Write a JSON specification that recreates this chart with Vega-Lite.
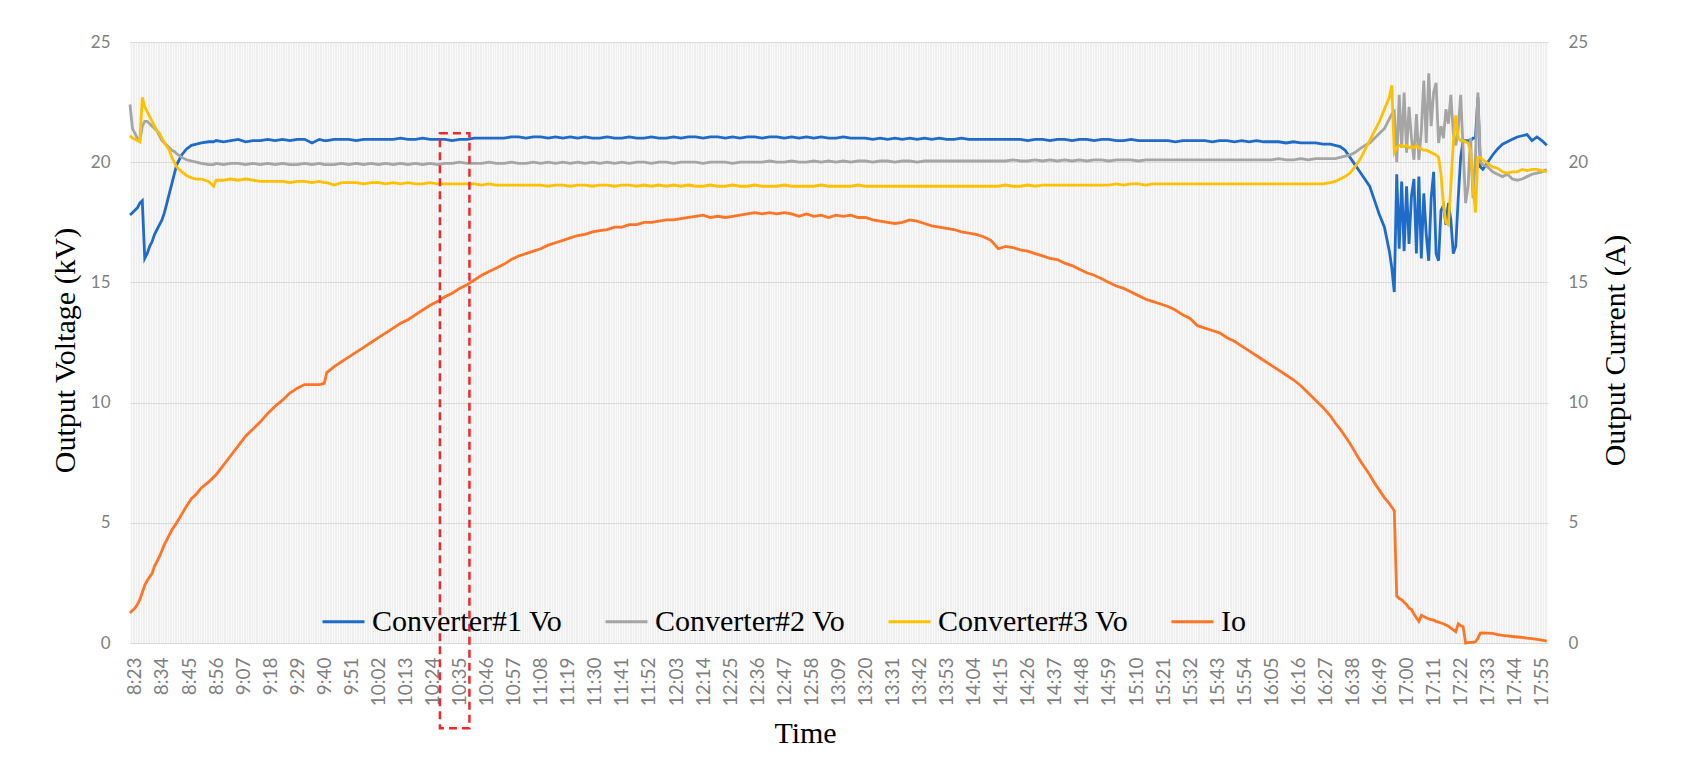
{
  "$schema": "https://vega.github.io/schema/vega-lite/v6.json",
  "width": 1418,
  "height": 601,
  "autosize": {"type": "none"},
  "padding": {"left": 130, "top": 42, "right": 152, "bottom": 117},
  "background": "#ffffff",
  "config": {
    "view": {"fill": "#efefef", "stroke": null},
    "axis": {"labelFont": "Lato", "labelColor": "#7f7f7f", "titleFont": "Liberation Serif", "titleFontWeight": "normal", "titleColor": "#000000", "titleFontSize": 30, "ticks": false, "domain": false}
  },
  "data": {
    "format": {"parse": {"t": "date:'%H:%M'"}},
    "values": [
      {"t":"8:21","c1":17.8,"c2":22.4,"c3":21.1,"io":1.25},
      {"t":"8:22","c1":17.9,"c2":21.4,"c3":21.0,"io":1.35},
      {"t":"8:23","c1":18.0,"c2":21.2,"c3":20.95,"io":1.45},
      {"t":"8:24","c1":18.1,"c2":21.0,"c3":20.9,"io":1.6},
      {"t":"8:25","c1":18.3,"c2":20.9,"c3":20.85,"io":1.8},
      {"t":"8:26","c1":18.4,"c2":21.5,"c3":22.7,"io":2.1},
      {"t":"8:27","c1":16.0,"c2":21.7,"c3":22.3,"io":2.4},
      {"t":"8:28","c1":16.2,"c2":21.7,"c3":22.1,"io":2.6},
      {"t":"8:29","c1":16.5,"c2":21.6,"c3":21.9,"io":2.75},
      {"t":"8:30","c1":16.7,"c2":21.5,"c3":21.7,"io":2.9},
      {"t":"8:31","c1":17.0,"c2":21.4,"c3":21.5,"io":3.2},
      {"t":"8:32","c1":17.2,"c2":21.3,"c3":21.3,"io":3.4},
      {"t":"8:33","c1":17.4,"c2":21.1,"c3":21.2,"io":3.6},
      {"t":"8:34","c1":17.6,"c2":20.9,"c3":21.0,"io":3.85},
      {"t":"8:35","c1":17.9,"c2":20.8,"c3":20.8,"io":4.1},
      {"t":"8:36","c1":18.3,"c2":20.7,"c3":20.65,"io":4.3},
      {"t":"8:37","c1":18.7,"c2":20.6,"c3":20.5,"io":4.5},
      {"t":"8:38","c1":19.1,"c2":20.5,"c3":20.2,"io":4.7},
      {"t":"8:39","c1":19.5,"c2":20.45,"c3":20.0,"io":4.85},
      {"t":"8:40","c1":19.9,"c2":20.35,"c3":19.8,"io":5.0},
      {"t":"8:42","c1":20.3,"c2":20.2,"c3":19.6,"io":5.35},
      {"t":"8:44","c1":20.55,"c2":20.1,"c3":19.45,"io":5.7},
      {"t":"8:46","c1":20.7,"c2":20.05,"c3":19.35,"io":6.0},
      {"t":"8:48","c1":20.75,"c2":20.0,"c3":19.3,"io":6.2},
      {"t":"8:50","c1":20.8,"c2":19.95,"c3":19.3,"io":6.45},
      {"t":"8:53","c1":20.85,"c2":19.9,"c3":19.2,"io":6.7},
      {"t":"8:55","c1":20.85,"c2":19.9,"c3":19.0,"io":6.9},
      {"t":"8:56","c1":20.9,"c2":19.95,"c3":19.25,"io":7.0},
      {"t":"8:59","c1":20.85,"c2":19.9,"c3":19.25,"io":7.4},
      {"t":"9:02","c1":20.9,"c2":19.95,"c3":19.3,"io":7.8},
      {"t":"9:05","c1":20.95,"c2":19.95,"c3":19.25,"io":8.2},
      {"t":"9:08","c1":20.85,"c2":19.9,"c3":19.3,"io":8.6},
      {"t":"9:11","c1":20.9,"c2":19.95,"c3":19.25,"io":8.9},
      {"t":"9:14","c1":20.9,"c2":19.9,"c3":19.2,"io":9.2},
      {"t":"9:17","c1":20.95,"c2":19.95,"c3":19.2,"io":9.55},
      {"t":"9:20","c1":20.9,"c2":19.9,"c3":19.2,"io":9.85},
      {"t":"9:23","c1":20.95,"c2":19.95,"c3":19.2,"io":10.1},
      {"t":"9:26","c1":20.9,"c2":19.9,"c3":19.15,"io":10.4},
      {"t":"9:29","c1":20.95,"c2":19.9,"c3":19.2,"io":10.6},
      {"t":"9:32","c1":20.95,"c2":19.95,"c3":19.2,"io":10.75},
      {"t":"9:35","c1":20.8,"c2":19.9,"c3":19.15,"io":10.75},
      {"t":"9:38","c1":20.95,"c2":19.95,"c3":19.2,"io":10.75},
      {"t":"9:40","c1":20.9,"c2":19.9,"c3":19.15,"io":10.8},
      {"t":"9:41","c1":20.9,"c2":19.9,"c3":19.15,"io":11.25},
      {"t":"9:44","c1":20.95,"c2":19.9,"c3":19.05,"io":11.5},
      {"t":"9:47","c1":20.95,"c2":19.95,"c3":19.15,"io":11.7},
      {"t":"9:50","c1":20.95,"c2":19.9,"c3":19.15,"io":11.9},
      {"t":"9:53","c1":20.9,"c2":19.95,"c3":19.15,"io":12.1},
      {"t":"9:56","c1":20.95,"c2":19.9,"c3":19.1,"io":12.3},
      {"t":"9:59","c1":20.95,"c2":19.95,"c3":19.15,"io":12.5},
      {"t":"10:02","c1":20.95,"c2":19.9,"c3":19.15,"io":12.7},
      {"t":"10:05","c1":20.95,"c2":19.95,"c3":19.1,"io":12.9},
      {"t":"10:08","c1":20.95,"c2":19.9,"c3":19.15,"io":13.1},
      {"t":"10:11","c1":21.0,"c2":19.95,"c3":19.1,"io":13.3},
      {"t":"10:14","c1":20.95,"c2":19.9,"c3":19.15,"io":13.45},
      {"t":"10:17","c1":20.95,"c2":19.95,"c3":19.1,"io":13.65},
      {"t":"10:20","c1":21.0,"c2":19.9,"c3":19.1,"io":13.85},
      {"t":"10:23","c1":20.95,"c2":19.95,"c3":19.15,"io":14.05},
      {"t":"10:26","c1":20.95,"c2":19.9,"c3":19.1,"io":14.2},
      {"t":"10:29","c1":20.95,"c2":19.95,"c3":19.1,"io":14.4},
      {"t":"10:32","c1":20.9,"c2":19.95,"c3":19.1,"io":14.55},
      {"t":"10:35","c1":20.95,"c2":20.0,"c3":19.1,"io":14.75},
      {"t":"10:38","c1":20.95,"c2":19.95,"c3":19.1,"io":14.9},
      {"t":"10:41","c1":21.0,"c2":19.95,"c3":19.1,"io":15.1},
      {"t":"10:44","c1":21.0,"c2":19.95,"c3":19.05,"io":15.3},
      {"t":"10:47","c1":21.0,"c2":20.0,"c3":19.1,"io":15.45},
      {"t":"10:50","c1":21.0,"c2":19.95,"c3":19.05,"io":15.6},
      {"t":"10:53","c1":21.0,"c2":19.95,"c3":19.05,"io":15.75},
      {"t":"10:56","c1":21.05,"c2":20.0,"c3":19.05,"io":15.95},
      {"t":"10:59","c1":21.05,"c2":19.95,"c3":19.05,"io":16.1},
      {"t":"11:02","c1":21.0,"c2":19.95,"c3":19.05,"io":16.2},
      {"t":"11:05","c1":21.05,"c2":20.0,"c3":19.05,"io":16.3},
      {"t":"11:08","c1":21.05,"c2":19.95,"c3":19.05,"io":16.4},
      {"t":"11:11","c1":21.0,"c2":20.0,"c3":19.0,"io":16.55},
      {"t":"11:14","c1":21.05,"c2":19.95,"c3":19.05,"io":16.65},
      {"t":"11:17","c1":21.0,"c2":20.0,"c3":19.05,"io":16.75},
      {"t":"11:20","c1":21.05,"c2":19.95,"c3":19.0,"io":16.85},
      {"t":"11:23","c1":21.0,"c2":20.0,"c3":19.05,"io":16.95},
      {"t":"11:26","c1":21.05,"c2":19.95,"c3":19.05,"io":17.0},
      {"t":"11:29","c1":21.0,"c2":20.0,"c3":19.0,"io":17.1},
      {"t":"11:32","c1":21.0,"c2":19.95,"c3":19.05,"io":17.15},
      {"t":"11:35","c1":21.05,"c2":20.0,"c3":19.05,"io":17.2},
      {"t":"11:38","c1":21.0,"c2":19.95,"c3":19.0,"io":17.3},
      {"t":"11:41","c1":21.0,"c2":20.0,"c3":19.05,"io":17.3},
      {"t":"11:44","c1":21.05,"c2":19.95,"c3":19.05,"io":17.4},
      {"t":"11:47","c1":21.0,"c2":20.0,"c3":19.0,"io":17.4},
      {"t":"11:50","c1":21.0,"c2":20.0,"c3":19.05,"io":17.5},
      {"t":"11:53","c1":21.05,"c2":19.95,"c3":19.0,"io":17.5},
      {"t":"11:56","c1":21.0,"c2":20.0,"c3":19.05,"io":17.55},
      {"t":"11:59","c1":21.0,"c2":20.0,"c3":19.0,"io":17.6},
      {"t":"12:02","c1":21.05,"c2":19.95,"c3":19.05,"io":17.6},
      {"t":"12:05","c1":21.0,"c2":20.0,"c3":19.0,"io":17.65},
      {"t":"12:08","c1":21.05,"c2":20.0,"c3":19.05,"io":17.7},
      {"t":"12:11","c1":21.05,"c2":20.0,"c3":19.0,"io":17.75},
      {"t":"12:14","c1":21.0,"c2":19.95,"c3":19.0,"io":17.8},
      {"t":"12:17","c1":21.05,"c2":20.0,"c3":19.05,"io":17.7},
      {"t":"12:20","c1":21.05,"c2":20.0,"c3":19.0,"io":17.75},
      {"t":"12:23","c1":21.0,"c2":20.0,"c3":19.0,"io":17.7},
      {"t":"12:26","c1":21.05,"c2":19.95,"c3":19.05,"io":17.75},
      {"t":"12:29","c1":21.0,"c2":20.0,"c3":19.0,"io":17.8},
      {"t":"12:32","c1":21.05,"c2":20.0,"c3":19.0,"io":17.85},
      {"t":"12:35","c1":21.05,"c2":20.0,"c3":19.05,"io":17.9},
      {"t":"12:38","c1":21.0,"c2":20.0,"c3":19.0,"io":17.85},
      {"t":"12:41","c1":21.05,"c2":20.05,"c3":19.0,"io":17.9},
      {"t":"12:44","c1":21.05,"c2":20.0,"c3":19.0,"io":17.85},
      {"t":"12:47","c1":21.0,"c2":20.0,"c3":19.05,"io":17.9},
      {"t":"12:50","c1":21.05,"c2":20.05,"c3":19.0,"io":17.85},
      {"t":"12:53","c1":21.0,"c2":20.0,"c3":19.0,"io":17.75},
      {"t":"12:56","c1":21.05,"c2":20.0,"c3":19.0,"io":17.85},
      {"t":"12:59","c1":21.0,"c2":20.05,"c3":19.0,"io":17.75},
      {"t":"13:02","c1":21.05,"c2":20.0,"c3":19.05,"io":17.8},
      {"t":"13:05","c1":21.0,"c2":20.05,"c3":19.0,"io":17.7},
      {"t":"13:08","c1":21.0,"c2":20.0,"c3":19.0,"io":17.8},
      {"t":"13:11","c1":21.05,"c2":20.05,"c3":19.0,"io":17.75},
      {"t":"13:14","c1":21.0,"c2":20.0,"c3":19.0,"io":17.8},
      {"t":"13:17","c1":21.0,"c2":20.05,"c3":19.05,"io":17.7},
      {"t":"13:20","c1":21.0,"c2":20.05,"c3":19.0,"io":17.7},
      {"t":"13:23","c1":20.95,"c2":20.0,"c3":19.0,"io":17.6},
      {"t":"13:26","c1":21.0,"c2":20.05,"c3":19.0,"io":17.55},
      {"t":"13:29","c1":20.95,"c2":20.05,"c3":19.0,"io":17.5},
      {"t":"13:32","c1":21.0,"c2":20.0,"c3":19.0,"io":17.45},
      {"t":"13:35","c1":20.95,"c2":20.05,"c3":19.0,"io":17.5},
      {"t":"13:38","c1":21.0,"c2":20.05,"c3":19.0,"io":17.6},
      {"t":"13:41","c1":20.95,"c2":20.0,"c3":19.0,"io":17.55},
      {"t":"13:44","c1":21.0,"c2":20.05,"c3":19.0,"io":17.45},
      {"t":"13:47","c1":20.95,"c2":20.05,"c3":19.0,"io":17.35},
      {"t":"13:50","c1":21.0,"c2":20.05,"c3":19.0,"io":17.3},
      {"t":"13:53","c1":20.95,"c2":20.05,"c3":19.0,"io":17.25},
      {"t":"13:56","c1":20.95,"c2":20.05,"c3":19.0,"io":17.2},
      {"t":"13:59","c1":21.0,"c2":20.05,"c3":19.0,"io":17.1},
      {"t":"14:02","c1":20.95,"c2":20.05,"c3":19.0,"io":17.05},
      {"t":"14:05","c1":20.95,"c2":20.05,"c3":19.0,"io":17.0},
      {"t":"14:08","c1":20.95,"c2":20.05,"c3":19.0,"io":16.9},
      {"t":"14:11","c1":20.95,"c2":20.05,"c3":19.0,"io":16.75},
      {"t":"14:14","c1":20.95,"c2":20.05,"c3":19.0,"io":16.4},
      {"t":"14:17","c1":20.95,"c2":20.05,"c3":19.05,"io":16.5},
      {"t":"14:20","c1":20.95,"c2":20.1,"c3":19.0,"io":16.45},
      {"t":"14:23","c1":20.95,"c2":20.05,"c3":19.0,"io":16.35},
      {"t":"14:26","c1":20.9,"c2":20.05,"c3":19.05,"io":16.3},
      {"t":"14:29","c1":20.95,"c2":20.1,"c3":19.0,"io":16.2},
      {"t":"14:32","c1":20.95,"c2":20.05,"c3":19.05,"io":16.1},
      {"t":"14:35","c1":20.9,"c2":20.1,"c3":19.05,"io":16.0},
      {"t":"14:38","c1":20.95,"c2":20.05,"c3":19.05,"io":15.95},
      {"t":"14:41","c1":20.95,"c2":20.1,"c3":19.05,"io":15.8},
      {"t":"14:44","c1":20.9,"c2":20.05,"c3":19.05,"io":15.7},
      {"t":"14:47","c1":20.95,"c2":20.1,"c3":19.05,"io":15.55},
      {"t":"14:50","c1":20.95,"c2":20.05,"c3":19.05,"io":15.4},
      {"t":"14:53","c1":20.9,"c2":20.1,"c3":19.05,"io":15.3},
      {"t":"14:56","c1":20.95,"c2":20.1,"c3":19.05,"io":15.15},
      {"t":"14:59","c1":20.95,"c2":20.05,"c3":19.05,"io":15.0},
      {"t":"15:02","c1":20.9,"c2":20.1,"c3":19.1,"io":14.85},
      {"t":"15:05","c1":20.9,"c2":20.1,"c3":19.05,"io":14.75},
      {"t":"15:08","c1":20.95,"c2":20.1,"c3":19.1,"io":14.6},
      {"t":"15:11","c1":20.9,"c2":20.05,"c3":19.1,"io":14.45},
      {"t":"15:14","c1":20.9,"c2":20.1,"c3":19.05,"io":14.3},
      {"t":"15:17","c1":20.9,"c2":20.1,"c3":19.1,"io":14.2},
      {"t":"15:20","c1":20.9,"c2":20.1,"c3":19.1,"io":14.1},
      {"t":"15:23","c1":20.9,"c2":20.1,"c3":19.1,"io":14.0},
      {"t":"15:26","c1":20.85,"c2":20.1,"c3":19.1,"io":13.85},
      {"t":"15:29","c1":20.9,"c2":20.1,"c3":19.1,"io":13.65},
      {"t":"15:32","c1":20.9,"c2":20.1,"c3":19.1,"io":13.5},
      {"t":"15:35","c1":20.9,"c2":20.1,"c3":19.1,"io":13.2},
      {"t":"15:38","c1":20.9,"c2":20.1,"c3":19.1,"io":13.1},
      {"t":"15:41","c1":20.85,"c2":20.1,"c3":19.1,"io":13.0},
      {"t":"15:44","c1":20.9,"c2":20.1,"c3":19.1,"io":12.9},
      {"t":"15:47","c1":20.9,"c2":20.1,"c3":19.1,"io":12.7},
      {"t":"15:50","c1":20.85,"c2":20.1,"c3":19.1,"io":12.55},
      {"t":"15:53","c1":20.9,"c2":20.1,"c3":19.1,"io":12.35},
      {"t":"15:56","c1":20.85,"c2":20.1,"c3":19.1,"io":12.15},
      {"t":"15:59","c1":20.9,"c2":20.1,"c3":19.1,"io":11.95},
      {"t":"16:02","c1":20.85,"c2":20.1,"c3":19.1,"io":11.75},
      {"t":"16:05","c1":20.85,"c2":20.1,"c3":19.1,"io":11.55},
      {"t":"16:08","c1":20.85,"c2":20.15,"c3":19.1,"io":11.35},
      {"t":"16:11","c1":20.8,"c2":20.1,"c3":19.1,"io":11.15},
      {"t":"16:14","c1":20.85,"c2":20.1,"c3":19.1,"io":10.95},
      {"t":"16:17","c1":20.8,"c2":20.15,"c3":19.1,"io":10.7},
      {"t":"16:20","c1":20.8,"c2":20.1,"c3":19.1,"io":10.4},
      {"t":"16:23","c1":20.8,"c2":20.15,"c3":19.1,"io":10.1},
      {"t":"16:26","c1":20.75,"c2":20.15,"c3":19.1,"io":9.8},
      {"t":"16:29","c1":20.75,"c2":20.15,"c3":19.15,"io":9.45},
      {"t":"16:31","c1":20.7,"c2":20.15,"c3":19.2,"io":9.15},
      {"t":"16:33","c1":20.65,"c2":20.2,"c3":19.3,"io":8.9},
      {"t":"16:35","c1":20.5,"c2":20.25,"c3":19.4,"io":8.6},
      {"t":"16:37","c1":20.2,"c2":20.3,"c3":19.55,"io":8.3},
      {"t":"16:39","c1":19.9,"c2":20.4,"c3":19.8,"io":7.95},
      {"t":"16:41","c1":19.6,"c2":20.55,"c3":20.1,"io":7.6},
      {"t":"16:43","c1":19.3,"c2":20.7,"c3":20.5,"io":7.3},
      {"t":"16:45","c1":19.0,"c2":20.8,"c3":20.9,"io":7.0},
      {"t":"16:47","c1":18.4,"c2":21.0,"c3":21.3,"io":6.65},
      {"t":"16:49","c1":17.8,"c2":21.2,"c3":21.7,"io":6.35},
      {"t":"16:51","c1":17.3,"c2":21.4,"c3":22.2,"io":6.05},
      {"t":"16:53","c1":16.3,"c2":21.8,"c3":22.7,"io":5.8},
      {"t":"16:54","c1":15.6,"c2":22.0,"c3":23.2,"io":5.65},
      {"t":"16:55","c1":14.6,"c2":22.1,"c3":20.4,"io":5.5},
      {"t":"16:56","c1":19.5,"c2":20.0,"c3":20.6,"io":1.95},
      {"t":"16:57","c1":16.4,"c2":22.8,"c3":20.7,"io":1.85},
      {"t":"16:58","c1":19.2,"c2":20.6,"c3":20.7,"io":1.8},
      {"t":"16:59","c1":16.3,"c2":22.9,"c3":20.65,"io":1.7},
      {"t":"17:00","c1":19.0,"c2":20.4,"c3":20.7,"io":1.6},
      {"t":"17:01","c1":16.6,"c2":22.3,"c3":20.6,"io":1.45},
      {"t":"17:02","c1":18.6,"c2":21.0,"c3":20.65,"io":1.4},
      {"t":"17:03","c1":19.3,"c2":20.1,"c3":20.6,"io":1.2},
      {"t":"17:04","c1":16.2,"c2":22.0,"c3":20.7,"io":1.05},
      {"t":"17:05","c1":19.4,"c2":20.1,"c3":20.6,"io":0.9},
      {"t":"17:06","c1":16.0,"c2":21.3,"c3":20.55,"io":1.15},
      {"t":"17:07","c1":18.7,"c2":23.4,"c3":20.5,"io":1.1},
      {"t":"17:08","c1":17.0,"c2":20.8,"c3":20.5,"io":1.05},
      {"t":"17:09","c1":15.9,"c2":23.7,"c3":20.45,"io":1.0},
      {"t":"17:10","c1":18.5,"c2":21.5,"c3":20.4,"io":0.97},
      {"t":"17:11","c1":19.6,"c2":22.9,"c3":20.35,"io":0.95},
      {"t":"17:12","c1":16.2,"c2":23.3,"c3":20.3,"io":0.9},
      {"t":"17:13","c1":15.9,"c2":20.8,"c3":20.2,"io":0.87},
      {"t":"17:14","c1":18.0,"c2":21.5,"c3":19.5,"io":0.83},
      {"t":"17:15","c1":18.2,"c2":21.0,"c3":18.2,"io":0.8},
      {"t":"17:16","c1":17.4,"c2":22.2,"c3":17.5,"io":0.75},
      {"t":"17:17","c1":18.3,"c2":21.6,"c3":17.4,"io":0.7},
      {"t":"17:18","c1":17.6,"c2":22.8,"c3":19.0,"io":0.62},
      {"t":"17:19","c1":16.2,"c2":21.2,"c3":20.8,"io":0.55},
      {"t":"17:20","c1":16.5,"c2":20.7,"c3":21.95,"io":0.47},
      {"t":"17:21","c1":18.5,"c2":21.4,"c3":21.0,"io":0.8},
      {"t":"17:22","c1":20.2,"c2":22.8,"c3":20.9,"io":0.72},
      {"t":"17:23","c1":20.9,"c2":20.5,"c3":20.9,"io":0.68},
      {"t":"17:24","c1":20.9,"c2":18.3,"c3":20.85,"io":0.0},
      {"t":"17:25","c1":20.9,"c2":19.0,"c3":20.8,"io":0.02},
      {"t":"17:26","c1":20.9,"c2":21.0,"c3":20.5,"io":0.03},
      {"t":"17:27","c1":21.0,"c2":18.5,"c3":19.0,"io":0.03},
      {"t":"17:28","c1":21.0,"c2":20.2,"c3":17.9,"io":0.05},
      {"t":"17:29","c1":22.7,"c2":22.9,"c3":20.2,"io":0.2},
      {"t":"17:30","c1":19.8,"c2":20.0,"c3":20.2,"io":0.41},
      {"t":"17:31","c1":19.7,"c2":19.9,"c3":20.1,"io":0.42},
      {"t":"17:33","c1":20.0,"c2":19.8,"c3":19.95,"io":0.41},
      {"t":"17:35","c1":20.3,"c2":19.6,"c3":19.8,"io":0.4},
      {"t":"17:37","c1":20.55,"c2":19.5,"c3":19.75,"io":0.35},
      {"t":"17:39","c1":20.75,"c2":19.4,"c3":19.6,"io":0.32},
      {"t":"17:41","c1":20.85,"c2":19.5,"c3":19.55,"io":0.3},
      {"t":"17:43","c1":20.95,"c2":19.3,"c3":19.6,"io":0.27},
      {"t":"17:45","c1":21.05,"c2":19.25,"c3":19.6,"io":0.25},
      {"t":"17:47","c1":21.1,"c2":19.3,"c3":19.7,"io":0.23},
      {"t":"17:49","c1":21.15,"c2":19.4,"c3":19.65,"io":0.2},
      {"t":"17:51","c1":20.9,"c2":19.5,"c3":19.7,"io":0.18},
      {"t":"17:53","c1":21.05,"c2":19.55,"c3":19.7,"io":0.15},
      {"t":"17:55","c1":20.9,"c2":19.6,"c3":19.65,"io":0.12},
      {"t":"17:57","c1":20.7,"c2":19.7,"c3":19.6,"io":0.08}
    ]
  },
  "layer": [
    {
      "transform": [{"fold": ["c1", "c2", "c3"], "as": ["key", "value"]}],
      "mark": {"type": "line", "strokeWidth": 2.8},
      "encoding": {
        "x": {
          "field": "t", "type": "temporal",
          "scale": {"domain": [{"year": 1900, "month": 1, "date": 1, "hours": 8, "minutes": 21}, {"year": 1900, "month": 1, "date": 1, "hours": 17, "minutes": 57, "seconds": 30}]},
          "axis": {
            "title": "Time",
            "tickCount": 576,
            "labelExpr": "(hours(datum.value)*60 + minutes(datum.value) - 503) % 11 == 0 ? timeFormat(datum.value, '%-H:%M') : ''",
            "labelAngle": -90, "labelOverlap": false, "labelFlush": false, "labelBound": false,
            "labelPadding": 14, "labelFontSize": 19,
            "grid": true, "gridColor": "#ffffff", "gridWidth": 0.8, "gridOpacity": 0.85,
            "titleX": 675, "titleY": 90, "titleBaseline": "middle", "titleAlign": "center"
          }
        },
        "y": {
          "field": "value", "type": "quantitative",
          "scale": {"domain": [0, 25], "nice": false},
          "axis": {
            "title": "Output Voltage (kV)", "values": [0, 5, 10, 15, 20, 25],
            "labelFontSize": 17, "labelPadding": 20,
            "grid": true, "gridColor": "#dadada", "gridWidth": 1,
            "titleX": -65, "titleY": 308, "titleAngle": 270, "titleBaseline": "middle", "titleAlign": "center"
          }
        },
        "color": {
          "field": "key", "type": "nominal",
          "scale": {"domain": ["c1", "c2", "c3", "io"], "range": ["#1f6bc8", "#a5a5a5", "#ffc000", "#ff7425"]},
          "legend": {
            "title": null, "orient": "none", "direction": "horizontal",
            "legendX": 191, "legendY": 557,
            "symbolType": "stroke", "symbolSize": 1764, "symbolStrokeWidth": 3,
            "labelFont": "Liberation Serif", "labelFontSize": 30, "labelColor": "#000000",
            "labelOffset": 6, "columnPadding": 36, "labelLimit": 400,
            "labelExpr": "datum.label == 'c1' ? 'Converter#1 Vo' : datum.label == 'c2' ? 'Converter#2 Vo' : datum.label == 'c3' ? 'Converter#3 Vo' : 'Io'"
          }
        }
      }
    },
    {
      "mark": {"type": "line", "strokeWidth": 2.8},
      "encoding": {
        "x": {"field": "t", "type": "temporal"},
        "y": {
          "field": "io", "type": "quantitative",
          "scale": {"domain": [0, 25], "nice": false},
          "axis": {
            "orient": "right", "title": "Output Current (A)", "values": [0, 5, 10, 15, 20, 25],
            "labelFontSize": 17, "labelPadding": 20, "grid": false,
            "titleX": 67, "titleY": 308, "titleAngle": 270, "titleBaseline": "middle", "titleAlign": "center"
          }
        },
        "color": {"datum": "io"}
      }
    },
    {
      "data": {
        "format": {"parse": {"t1": "date:'%H:%M'", "t2": "date:'%H:%M'"}},
        "values": [{"t1": "10:27", "t2": "10:39", "top": 21.2, "bottom": -3.55}]
      },
      "mark": {"type": "rect", "filled": false, "stroke": "#f0282a", "strokeWidth": 2.5, "strokeDash": [8, 5], "clip": false},
      "encoding": {
        "x": {"field": "t1", "type": "temporal"},
        "x2": {"field": "t2"},
        "y": {"field": "top", "type": "quantitative", "scale": {"domain": [0, 25], "nice": false}, "axis": null},
        "y2": {"field": "bottom"}
      }
    }
  ],
  "resolve": {"scale": {"y": "independent"}}
}
